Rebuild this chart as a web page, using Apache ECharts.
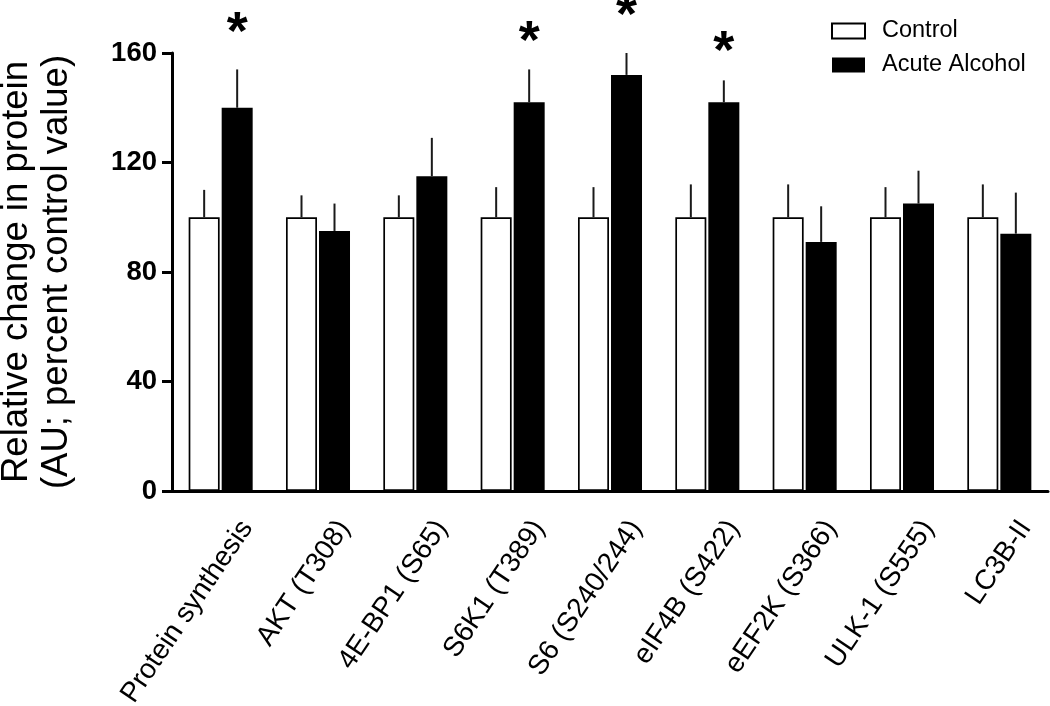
<!DOCTYPE html>
<html>
<head>
<meta charset="utf-8">
<script src="https://cdn.jsdelivr.net/npm/echarts@6/dist/echarts.min.js"></script>
<style>html,body{margin:0;padding:0;background:#fff}#chart{width:1050px;height:706px}</style>
</head>
<body>
<div id="chart"></div>
<script>
const categories = ['Protein synthesis','AKT (T308)','4E-BP1 (S65)','S6K1 (T389)','S6 (S240/244)','eIF4B (S422)','eEF2K (S366)','ULK-1 (S555)','LC3B-II'];
const controlValues = [100,100,100,100,100,100,100,100,100];
const controlErrors = [10,8,8,11,11,12,12,11,12];
const alcoholValues = [140,95,115,142,152,142,91,105,94];
const alcoholErrors = [14,10,14,12,8,8,13,12,15];
const starCategories = [0,3,4,5];
const starLevels = [170,166.5,176,163];
const yTicks = [0,40,80,120,160];

const FONT = 'Liberation Sans, Arial, Helvetica, sans-serif';
const BAR_W = 31, GAP = 2;
const OFFSET = (BAR_W + GAP) / 2;

function errRender(sign) {
  return function (params, api) {
    const c = api.value(0), v = api.value(1), e = api.value(2);
    const p0 = api.coord([c, v]);
    const p1 = api.coord([c, v + e]);
    const x = p0[0] + sign * OFFSET;
    return {
      type: 'line',
      shape: {x1: x, y1: p0[1], x2: x, y2: p1[1]},
      style: {stroke: '#1a1a1a', lineWidth: 2}
    };
  };
}

const chart = echarts.init(document.getElementById('chart'), null, {renderer: 'canvas'});
chart.setOption({
  animation: false,
  backgroundColor: '#fff',
  grid: {left: 172, right: 2, top: 53, bottom: 215, containLabel: false, outerBoundsMode: 'none'},
  legend: {
    orient: 'vertical',
    left: 826, top: 14,
    itemWidth: 33, itemHeight: 15,
    itemGap: 10,
    icon: 'rect',
    data: ['Control', 'Acute Alcohol'],
    textStyle: {fontFamily: FONT, fontSize: 23.5, color: '#000', padding: [0, 0, 0, 12], lineHeight: 24}
  },
  xAxis: {
    type: 'category',
    data: categories,
    axisLine: {lineStyle: {color: '#000', width: 3}},
    axisTick: {show: false},
    axisLabel: {
      interval: 0, rotate: 56,
      fontFamily: FONT, fontSize: 28, color: '#000',
      margin: 46, verticalAlign: 'top',
      padding: [0, -26, 0, 0]
    }
  },
  yAxis: {
    type: 'value',
    min: yTicks[0], max: yTicks[yTicks.length - 1], interval: 40,
    name: 'Relative change in protein\n(AU; percent control value)',
    nameLocation: 'middle',
    nameGap: 95,
    nameTextStyle: {fontFamily: FONT, fontSize: 36.5, color: '#000', lineHeight: 40},
    axisLine: {show: true, lineStyle: {color: '#000', width: 3}},
    axisTick: {show: true, length: 10, lineStyle: {color: '#000', width: 3}},
    axisLabel: {fontFamily: FONT, fontSize: 27.5, fontWeight: 'bold', color: '#000', margin: 15},
    splitLine: {show: false}
  },
  series: [
    {
      name: 'Control', type: 'bar', data: controlValues,
      barWidth: BAR_W, barGap: (GAP / BAR_W * 100).toFixed(1) + '%',
      itemStyle: {color: '#fff', borderColor: '#000', borderWidth: 1.7}
    },
    {
      name: 'Acute Alcohol', type: 'bar', data: alcoholValues,
      barWidth: BAR_W,
      itemStyle: {color: '#000', borderColor: '#000', borderWidth: 0}
    },
    {
      type: 'custom', z: 5, silent: true,
      renderItem: errRender(-1),
      data: controlValues.map((v, i) => [i, v, controlErrors[i]])
    },
    {
      type: 'custom', z: 5, silent: true,
      renderItem: errRender(1),
      data: alcoholValues.map((v, i) => [i, v, alcoholErrors[i]])
    },
    {
      type: 'custom', z: 6, silent: true, clip: false,
      renderItem: function (params, api) {
        const p = api.coord([api.value(0), api.value(1)]);
        return {
          type: 'text', x: p[0] + OFFSET, y: p[1] + 8,
          style: {text: '*', fill: '#000', font: 'bold 54px ' + FONT, align: 'center', verticalAlign: 'middle'}
        };
      },
      data: starCategories.map((c, i) => [c, starLevels[i]])
    }
  ]
});
</script>
</body>
</html>
